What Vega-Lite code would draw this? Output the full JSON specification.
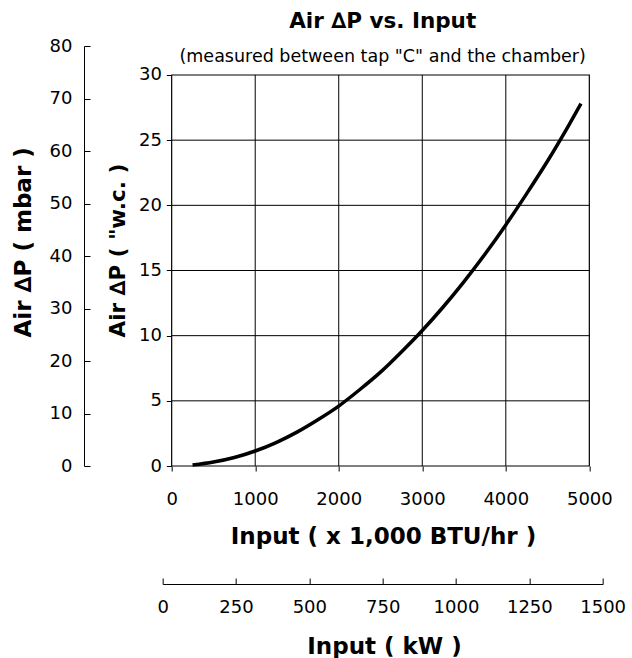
{
  "$schema": "https://vega.github.io/schema/vega-lite/v6.json",
  "width": 440,
  "height": 420,
  "autosize": {"type": "none"},
  "padding": {"left": 162.67, "top": 46, "right": 29.33, "bottom": 192},
  "background": "white",
  "config": {
    "view": {"stroke": null},
    "font": "DejaVu Sans",
    "axis": {
      "labelFont": "DejaVu Sans",
      "titleFont": "DejaVu Sans",
      "labelColor": "#000",
      "titleColor": "#000",
      "domainColor": "#000",
      "tickColor": "#000",
      "domainWidth": 1,
      "tickWidth": 1,
      "grid": false,
      "labelFlush": false,
      "labelOverlap": false,
      "labelFontSize": 18,
      "titleFontSize": 23,
      "titleFontWeight": "bold"
    }
  },
  "title": {
    "text": "Air ∆P vs. Input",
    "subtitle": "(measured between tap \"C\" and the chamber)",
    "font": "DejaVu Sans",
    "subtitleFont": "DejaVu Sans",
    "fontSize": 21.5,
    "fontWeight": "bold",
    "subtitleFontSize": 17.5,
    "color": "#000",
    "subtitleColor": "#000",
    "anchor": "middle",
    "offset": -28,
    "subtitlePadding": 15
  },
  "datasets": {
    "curve": [
      {"btu": 250, "wc": 0.07},
      {"btu": 500, "wc": 0.3},
      {"btu": 750, "wc": 0.65},
      {"btu": 1000, "wc": 1.15},
      {"btu": 1250, "wc": 1.8},
      {"btu": 1500, "wc": 2.6},
      {"btu": 1750, "wc": 3.55},
      {"btu": 2000, "wc": 4.6},
      {"btu": 2250, "wc": 5.85},
      {"btu": 2500, "wc": 7.2},
      {"btu": 2750, "wc": 8.75},
      {"btu": 3000, "wc": 10.4},
      {"btu": 3250, "wc": 12.2},
      {"btu": 3500, "wc": 14.15},
      {"btu": 3750, "wc": 16.25},
      {"btu": 4000, "wc": 18.5},
      {"btu": 4250, "wc": 20.9},
      {"btu": 4500, "wc": 23.4},
      {"btu": 4750, "wc": 26.1},
      {"btu": 4900, "wc": 27.8}
    ],
    "vgrid": [
      {"btu": 1000, "wc": 0, "wc2": 30},
      {"btu": 2000, "wc": 0, "wc2": 30},
      {"btu": 3000, "wc": 0, "wc2": 30},
      {"btu": 4000, "wc": 0, "wc2": 30}
    ],
    "hgrid": [
      {"wc": 5, "btu": 0, "btu2": 5000},
      {"wc": 10, "btu": 0, "btu2": 5000},
      {"wc": 15, "btu": 0, "btu2": 5000},
      {"wc": 20, "btu": 0, "btu2": 5000},
      {"wc": 25, "btu": 0, "btu2": 5000}
    ],
    "frame": [
      {"btu": 0, "btu2": 5000, "wc": 0, "wc2": 30}
    ],
    "secondary": [
      {"kw": 0, "mbar": 0},
      {"kw": 1500, "mbar": 80}
    ]
  },
  "layer": [
    {
      "encoding": {
        "x": {
          "field": "btu",
          "type": "quantitative",
          "scale": {"domain": [-107.8, 5159.7], "nice": false, "zero": false},
          "axis": {
            "orient": "bottom",
            "values": [0, 1000, 2000, 3000, 4000, 5000],
            "format": "d",
            "domain": false,
            "tickSize": 5,
            "labelPadding": 19,
            "title": "Input ( x 1,000 BTU/hr )",
            "titleAlign": "center",
            "titleBaseline": "alphabetic",
            "titleX": 220.3,
            "titleY": 77.3,
            "titleAngle": 0
          }
        },
        "y": {
          "field": "wc",
          "type": "quantitative",
          "scale": {"domain": [0, 32.225], "nice": false, "zero": false},
          "axis": {
            "orient": "left",
            "offset": -8.67,
            "values": [0, 5, 10, 15, 20, 25, 30],
            "format": "d",
            "domain": false,
            "tickSize": 5,
            "labelPadding": 5,
            "title": "Air ∆P ( \"w.c. )",
            "titleFontSize": 21.5,
            "titleAngle": -90,
            "titleAlign": "left",
            "titleBaseline": "middle",
            "titleX": -53,
            "titleY": 291
          }
        }
      },
      "layer": [
        {
          "data": {"name": "vgrid"},
          "mark": {"type": "rule", "color": "#000", "strokeWidth": 1},
          "encoding": {"y2": {"field": "wc2"}}
        },
        {
          "data": {"name": "hgrid"},
          "mark": {"type": "rule", "color": "#000", "strokeWidth": 1},
          "encoding": {"x2": {"field": "btu2"}}
        },
        {
          "data": {"name": "frame"},
          "mark": {"type": "rect", "fill": null, "fillOpacity": 0, "stroke": "#000", "strokeWidth": 1.2},
          "encoding": {"x2": {"field": "btu2"}, "y2": {"field": "wc2"}}
        },
        {
          "data": {"name": "curve"},
          "mark": {"type": "line", "color": "#000", "strokeWidth": 3.5, "interpolate": "monotone"},
          "encoding": {}
        }
      ]
    },
    {
      "data": {"name": "secondary"},
      "mark": {"type": "point", "opacity": 0},
      "encoding": {
        "x": {
          "field": "kw",
          "type": "quantitative",
          "scale": {"domain": [0, 1500], "nice": false, "zero": false},
          "axis": {
            "orient": "bottom",
            "offset": 118,
            "values": [0, 250, 500, 750, 1000, 1250, 1500],
            "format": "d",
            "tickSize": -6,
            "labelPadding": 20,
            "title": "Input ( kW )",
            "titleAlign": "center",
            "titleBaseline": "alphabetic",
            "titleX": 221.3,
            "titleY": 69.3
          }
        },
        "y": {
          "field": "mbar",
          "type": "quantitative",
          "scale": {"domain": [0, 80], "nice": false, "zero": false},
          "axis": {
            "orient": "left",
            "offset": 78.67,
            "values": [0, 10, 20, 30, 40, 50, 60, 70, 80],
            "format": "d",
            "tickSize": -6,
            "labelPadding": 18,
            "title": "Air ∆P ( mbar )",
            "titleAngle": -90,
            "titleAlign": "left",
            "titleBaseline": "middle",
            "titleX": -60.7,
            "titleY": 291
          }
        }
      }
    }
  ],
  "resolve": {
    "scale": {"x": "independent", "y": "independent"},
    "axis": {"x": "independent", "y": "independent"}
  }
}
